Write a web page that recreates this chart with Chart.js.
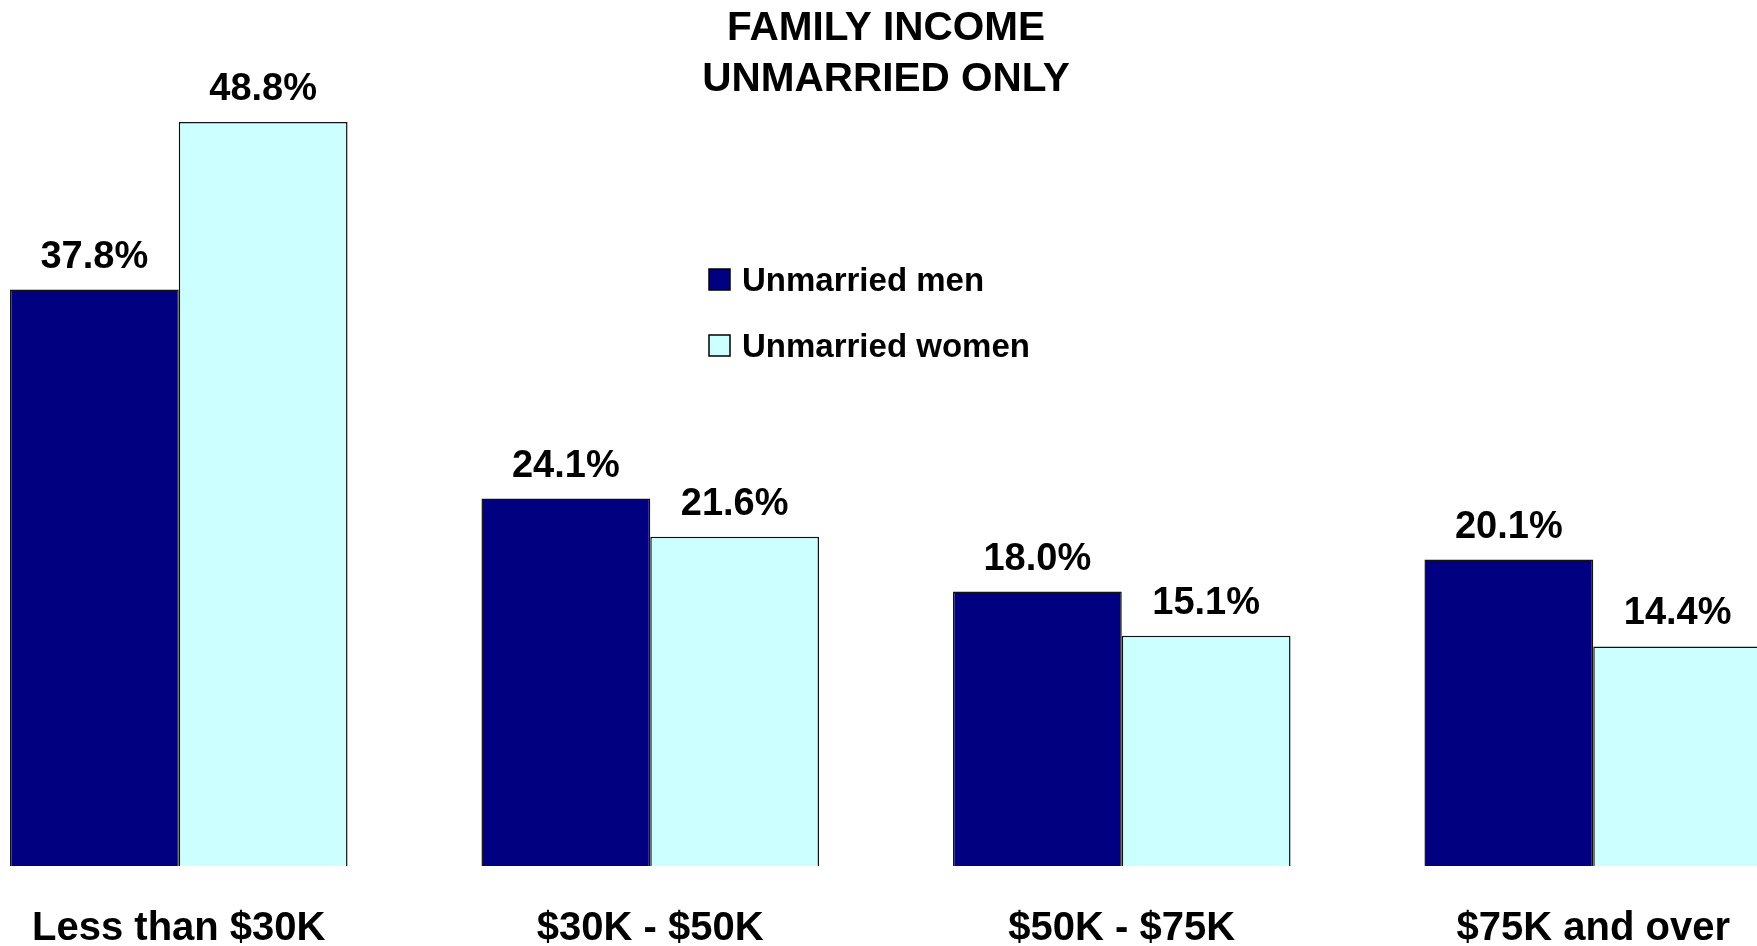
<!DOCTYPE html>
<html>
<head>
<meta charset="utf-8">
<script src="https://cdn.jsdelivr.net/npm/chart.js@4/dist/chart.umd.min.js"></script>
<style>
  html, body { margin: 0; padding: 0; overflow: hidden; background: #fff; }
  body { width: 1757px; height: 946px; position: relative; }
  /* plot runs past the edges of the page, like the original slide */
  #wrap { position: absolute; left: -57px; top: 0; width: 1886px; height: 992px; }
</style>
</head>
<body>
<div id="wrap"><canvas id="myChart"></canvas></div>
<script>
// data
const categories = ['Less than $30K', '$30K - $50K', '$50K - $75K', '$75K and over']
const seriesNames = ['Unmarried men', 'Unmarried women']
const menValues = [37.8, 24.1, 18.0, 20.1]
const womenValues = [48.8, 21.6, 15.1, 14.4]
const titleLines = ['FAMILY INCOME', 'UNMARRIED ONLY']

const font = "'Liberation Sans', Arial, sans-serif"
const navy = '#000080'
const cyan = '#CCFFFF'

// value labels on top of each bar
const barLabels = {
    id: 'barLabels',
    afterDatasetsDraw(chart){
        const ctx = chart.ctx
        ctx.save()
        ctx.font = 'bold 38px ' + font
        ctx.fillStyle = '#000'
        ctx.textAlign = 'center'
        ctx.textBaseline = 'alphabetic'
        chart.data.datasets.forEach((ds, i) => {
            chart.getDatasetMeta(i).data.forEach((bar, j) => {
                ctx.fillText(ds.data[j].toFixed(1) + '%', bar.x, bar.y - 22)
            })
        })
        ctx.restore()
    }
}

// legend box sitting inside the plot
const boxLegend = {
    id: 'boxLegend',
    afterDraw(chart){
        const ctx = chart.ctx
        const x = 766, y = 269, size = 21, step = 66
        ctx.save()
        ctx.font = 'bold 33px ' + font
        ctx.textBaseline = 'middle'
        ctx.textAlign = 'left'
        chart.data.datasets.forEach((ds, i) => {
            const top = y + i * step
            ctx.fillStyle = ds.backgroundColor
            ctx.fillRect(x, top, size, size)
            ctx.lineWidth = 1.5
            ctx.strokeStyle = '#000'
            ctx.strokeRect(x, top, size, size)
            ctx.fillStyle = '#000'
            ctx.fillText(ds.label, x + 33, top + size / 2 + 2.5)
        })
        ctx.restore()
    }
}

const data = {
    labels: categories,
    datasets: [{
        label: seriesNames[0],
        data: menValues,
        backgroundColor: navy,
        borderColor: '#111',
        borderWidth: 1.5,
    }, {
        label: seriesNames[1],
        data: womenValues,
        backgroundColor: cyan,
        borderColor: '#111',
        borderWidth: 1.5,
    }]
}

const config = {
    type: 'bar',
    data: data,
    options: {
        responsive: true,
        maintainAspectRatio: false,
        animation: false,
        categoryPercentage: 0.716,
        barPercentage: 1,
        layout: { padding: 0 },
        plugins: {
            legend: { display: false },
            tooltip: { enabled: false },
            title: {
                display: true,
                text: titleLines,
                color: '#000',
                font: { family: font, size: 40.5, weight: 'bold', lineHeight: 1.27 },
                padding: { top: 3, bottom: 0 },
            },
        },
        scales: {
            x: {
                grid: { display: false, drawTicks: false },
                border: { display: false },
                ticks: {
                    color: '#000',
                    font: { family: font, size: 40, weight: 'bold' },
                    padding: 39,
                    maxRotation: 0,
                    autoSkip: false,
                },
            },
            y: {
                display: false,
                min: 0,
                max: 49.85,
            },
        }
    },
    plugins: [barLabels, boxLegend],
}

const myChart = new Chart(document.getElementById('myChart'), config)
</script>
</body>
</html>
